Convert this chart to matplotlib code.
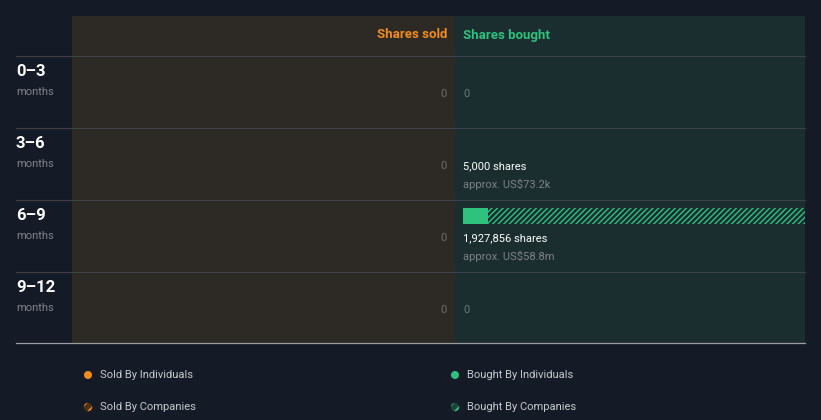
import matplotlib
matplotlib.use("Agg")
import matplotlib.pyplot as plt
from matplotlib.patches import Rectangle, Circle

plt.rcParams['font.family'] = ['Roboto', 'DejaVu Sans']
plt.rcParams['hatch.linewidth'] = 1.0

periods = ["0\u20133", "3\u20136", "6\u20139", "9\u201312"]
sold_labels = ["0", "0", "0", "0"]
bought_individuals = [0, 5000, 141000, 0]
bought_companies = [0, 0, 1786856, 0]
bought_share_text = [None, "5,000 shares", "1,927,856 shares", None]
bought_value_text = [None, "approx. US$73.2k", "approx. US$58.8m", None]
legend_labels = ["Sold By Individuals", "Bought By Individuals", "Sold By Companies", "Bought By Companies"]

BG = "#151b26"
SOLD_BG = "#2d2924"
BOUGHT_BG = "#1a2d2f"
ORANGE = "#f28c1c"
GREEN = "#2ec27e"
GRAY = "#7f8286"
LINE = "#3e4246"

W, H = 821, 420
fig = plt.figure(figsize=(W / 100, H / 100), dpi=100, facecolor=BG)
ax = fig.add_axes([0, 0, 1, 1])
ax.set_xlim(0, W)
ax.set_ylim(H, 0)
ax.axis("off")

# panels
ax.add_patch(Rectangle((72, 16), 455 - 72, 343 - 16, color=SOLD_BG, lw=0, zorder=0))
ax.add_patch(Rectangle((455, 16), 805 - 455, 343 - 16, color=BOUGHT_BG, lw=0, zorder=0))

# headers
ax.text(447, 35, "Shares sold", color=ORANGE, fontsize=9.5, fontweight="bold", ha="right", va="center")
ax.text(463, 35, "Shares bought", color=GREEN, fontsize=9.5, fontweight="bold", ha="left", va="center")

row_tops = [56, 128, 200, 272]
for i, top in enumerate(row_tops):
    ax.plot([16, 805], [top, top], color=LINE, lw=0.8, zorder=1)
    ax.text(16, top + 15, periods[i], color="white", fontsize=12, fontweight="bold", ha="left", va="center")
    ax.text(16, top + 36, "months", color=GRAY, fontsize=8, ha="left", va="center")
    ax.text(447, top + 38, sold_labels[i], color="#6d6c69", fontsize=8, ha="right", va="center")
    if bought_share_text[i] is None:
        ax.text(463, top + 38, "0", color="#6d7876", fontsize=8, ha="left", va="center")
    else:
        ax.text(463, top + 38, bought_share_text[i], color="white", fontsize=8, ha="left", va="center")
        ax.text(463, top + 56, bought_value_text[i], color=GRAY, fontsize=8, ha="left", va="center")

ax.plot([16, 805], [343, 343], color="#9a9c9f", lw=0.9, zorder=2)

# bar axes (bought panel)
total_max = max(a + b for a, b in zip(bought_individuals, bought_companies))
bar_px = 805 - 463
min_visible = total_max / bar_px  # bars narrower than one pixel are not drawn
bax = fig.add_axes([463 / W, 1 - 343 / H, bar_px / W, (343 - 56) / H])
bax.set_xlim(0, total_max)
bax.set_ylim(343, 56)
bax.axis("off")
bax.patch.set_alpha(0)
for i, top in enumerate(row_tops):
    y = top + 16
    ind = bought_individuals[i]
    comp = bought_companies[i]
    if ind >= min_visible:
        bax.barh(y, ind, height=16, color=GREEN, lw=0)
    if comp >= min_visible:
        bax.barh(y, comp, left=ind, height=16, color="none",
                 edgecolor=GREEN, hatch="//////", lw=0)

# legend
def dot(x, y, c):
    ax.add_patch(Circle((x, y), 4, color=c, lw=0))

def hatched(x, y, c, fill):
    ax.add_patch(Circle((x, y), 4.2, facecolor=fill, edgecolor=c, hatch="///", lw=0))

plt.rcParams['hatch.linewidth'] = 1.6
dot(88, 375, ORANGE)
ax.text(100, 375, legend_labels[0], color="#c8cacc", fontsize=8, va="center")
dot(455, 375, GREEN)
ax.text(467, 375, legend_labels[1], color="#c8cacc", fontsize=8, va="center")
hatched(88, 407, ORANGE, "#4a3318")
ax.text(100, 407, legend_labels[2], color="#c8cacc", fontsize=8, va="center")
hatched(455, 407, GREEN, "#1d4434")
ax.text(467, 407, legend_labels[3], color="#c8cacc", fontsize=8, va="center")

fig.savefig("out.png", dpi=100, facecolor=BG)
